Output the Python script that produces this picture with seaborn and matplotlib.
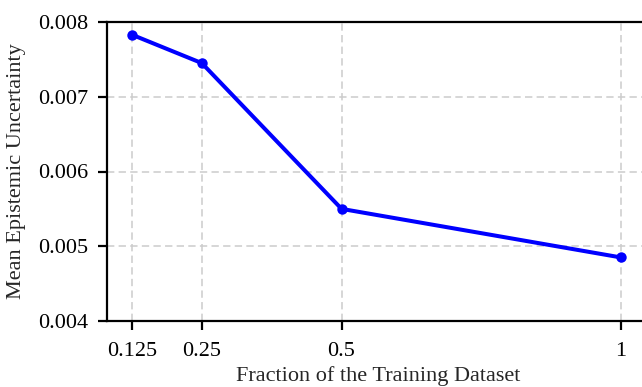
import matplotlib
matplotlib.use("Agg")
import matplotlib.pyplot as plt
import seaborn as sns
import pandas as pd

fractions = [0.125, 0.25, 0.5, 1.0]
uncertainty = [0.00783, 0.00745, 0.00550, 0.00485]
xtick_labels = ["0.125", "0.25", "0.5", "1"]
yticks = [0.004, 0.005, 0.006, 0.007, 0.008]
ytick_labels = ["0.004", "0.005", "0.006", "0.007", "0.008"]

sns.set_style("ticks")
plt.rcParams['font.family'] = ['Liberation Serif', 'DejaVu Serif']
plt.rcParams['mathtext.fontset'] = 'stix'

df = pd.DataFrame({"fraction": fractions, "unc": uncertainty})

fig = plt.figure(figsize=(6.42, 3.87), dpi=100)
ax = fig.add_axes([107/642, 1 - 321/387, (649 - 107)/642, (321 - 22)/387])
sns.lineplot(data=df, x="fraction", y="unc", ax=ax, color=(0, 0, 1), linewidth=2.9,
             marker="o", markersize=7.5, markeredgewidth=0)
ax.set_xlim(0.0804, 1.05)
ax.set_ylim(0.004, 0.008)
ax.set_xticks(fractions)
ax.set_xticklabels(xtick_labels)
ax.set_yticks(yticks)
ax.set_yticklabels(ytick_labels)
ax.grid(True, linestyle=(0, (4.8, 2.8)), color="#cccccc", linewidth=1.1)
ax.set_axisbelow(True)
ax.spines['right'].set_visible(False)
for s in ['left', 'bottom', 'top']:
    ax.spines[s].set_linewidth(1.6)
    ax.spines[s].set_color('black')
ax.tick_params(axis='both', direction='out', length=6.5, width=1.6, labelsize=16, colors='black')
ax.tick_params(axis='y', pad=7)
ax.tick_params(axis='x', pad=8.5)
ax.set_xlabel("Fraction of the Training Dataset", fontsize=16, labelpad=3.5)
ax.set_ylabel("Mean Epistemic Uncertainty", fontsize=16, labelpad=9)
fig.savefig("out.png", dpi=100)
